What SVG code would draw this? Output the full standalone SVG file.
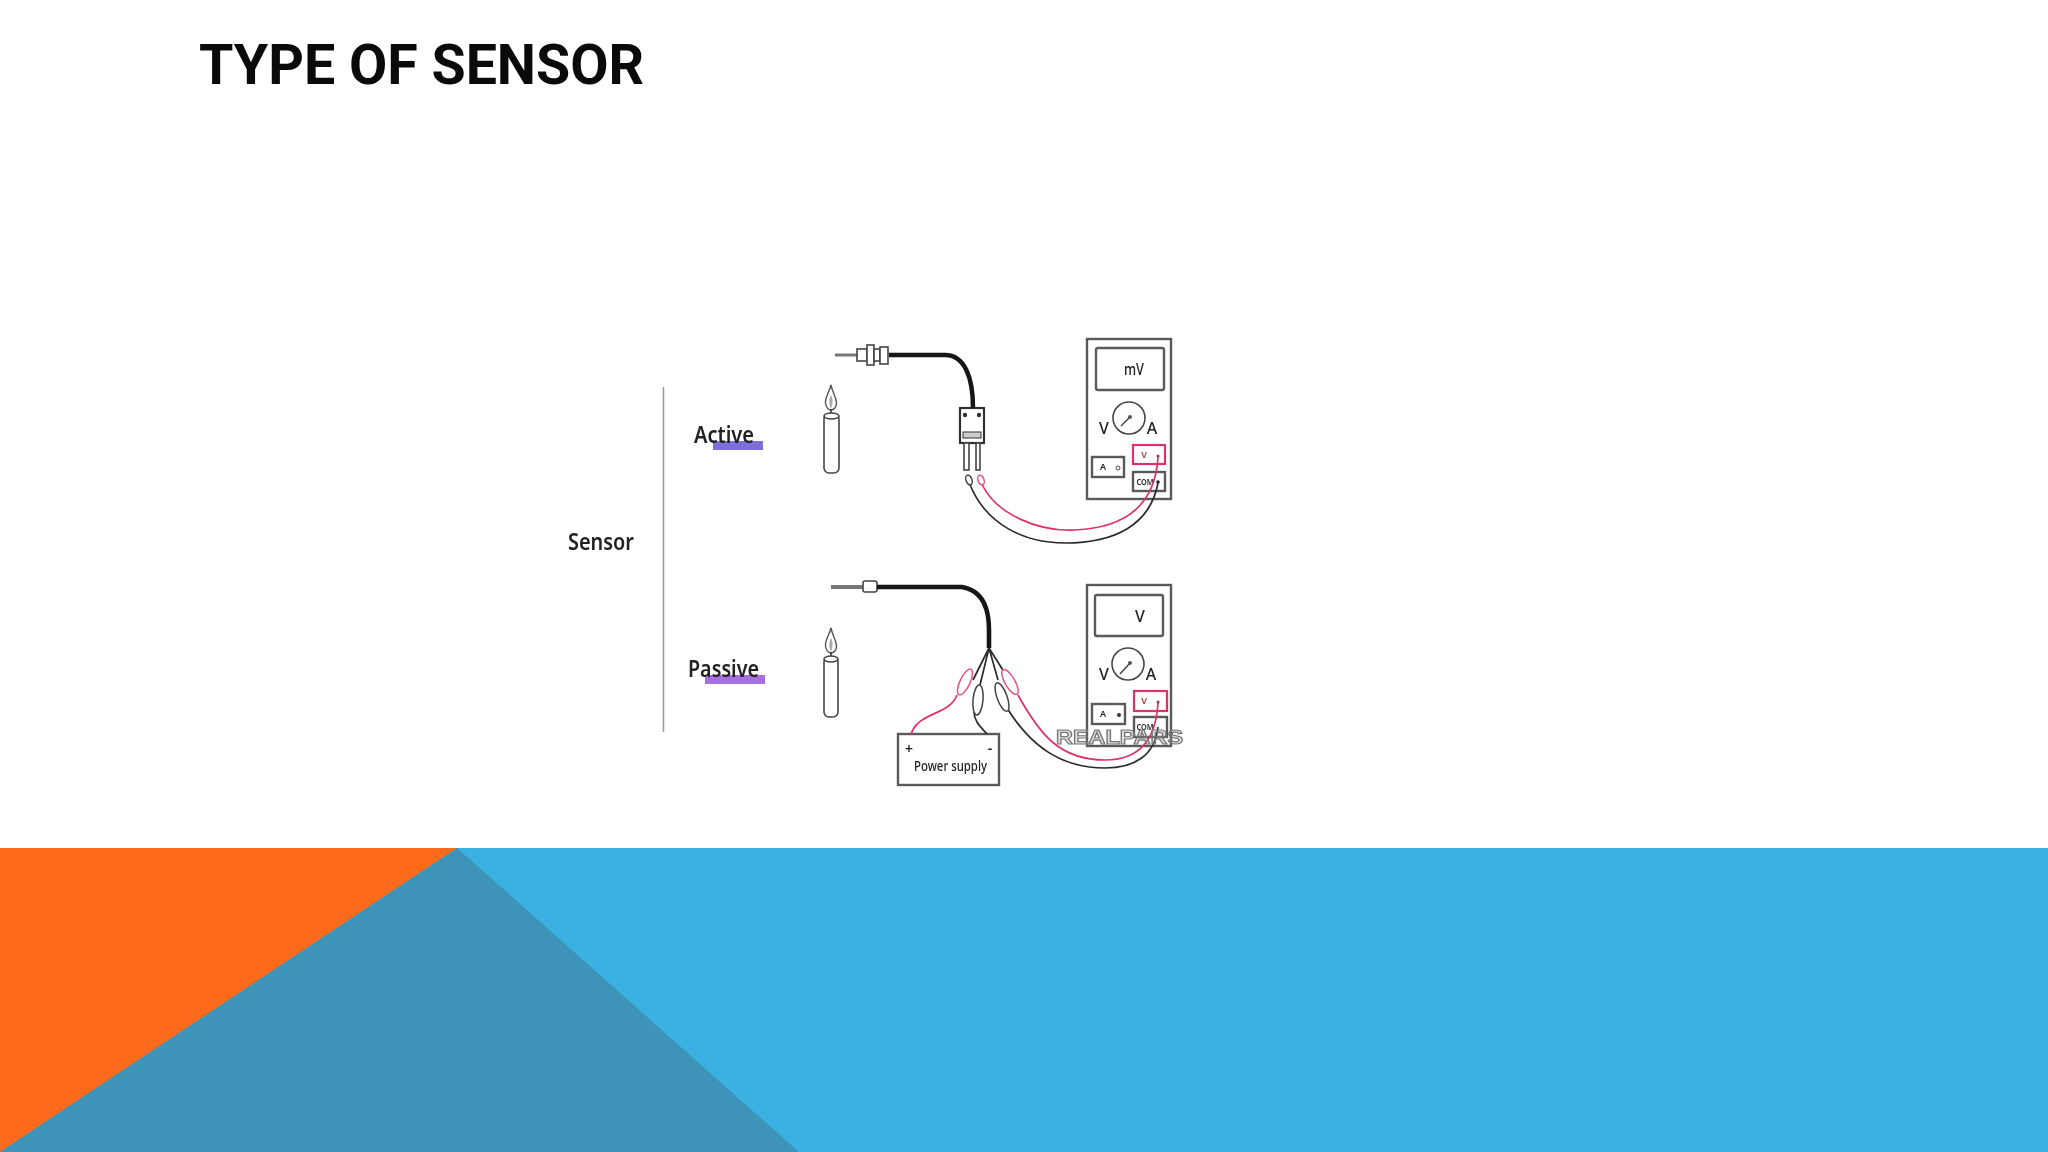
<svg xmlns="http://www.w3.org/2000/svg" width="2048" height="1152" viewBox="0 0 2048 1152">
<defs>
<filter id="soft" x="-5%" y="-5%" width="110%" height="110%"><feGaussianBlur stdDeviation="0.6"/></filter>
<g id="flame">
<path d="M0 0C-2 8 -6 12 -5.500 18C-5 23 -2 25 0 25C3 25 5.500 22 5.500 18C5.500 12 1.500 8 0 0Z" fill="#fff" stroke="#555" stroke-width="1.400"/>
<path d="M0 10C-2 14 -2.500 18 0 24C2 18 2 14 0 10Z" fill="#aaa"/>
<path d="M0 24V29" stroke="#333" stroke-width="1.500"/>
</g>
</defs>
<style>
.sans{font-family:"Noto Sans","Open Sans",sans-serif;fill:#222}
.label{font-size:24px;font-weight:600}
.needle{fill:none;stroke:#444;stroke-width:1.500}
.thin{fill:#fff;stroke:#444;stroke-width:1.600}
.box{fill:#fff;stroke:#5a5a5a;stroke-width:2.400}
.red{fill:none;stroke:#e0336a;stroke-width:1.700}
.blk{fill:none;stroke:#2c2c2c;stroke-width:1.700}
.cable{fill:none;stroke:#161616;stroke-width:4.500}
.clipR{fill:#fff;stroke:#e6527f;stroke-width:1.500}
.clipB{fill:#fff;stroke:#444;stroke-width:1.500}
.pbox{fill:#fff;stroke:#e0336a;stroke-width:2.200}
.mini{font-size:9px;text-anchor:middle;font-weight:600}
.meter{font-size:16px;text-anchor:middle;font-weight:500}
</style>
<rect width="2048" height="1152" fill="#fff"/>
<g id="band">
<rect y="848" width="2048" height="304" fill="#3bb1e1"/>
<polygon points="0,848 457,848 0,1152" fill="#fd6a1c"/>
<polygon points="457,848 799,1152 0,1152" fill="#3d94b8"/>
</g>
<text id="title" x="199" y="84" font-family="Roboto,'Liberation Sans',sans-serif" font-weight="700" font-size="56" fill="#0a0a0a" textLength="445" lengthAdjust="spacingAndGlyphs">TYPE OF SENSOR</text>
<g filter="url(#soft)">
<g id="active-label">
<rect x="713" y="441" width="50" height="9" fill="#7a6fd8"/>
<text class="sans label" x="694" y="443" textLength="60" lengthAdjust="spacingAndGlyphs">Active</text>
</g>
<g id="sensor-label"><text class="sans label" x="568" y="550" textLength="66" lengthAdjust="spacingAndGlyphs">Sensor</text></g>
<g id="passive-label">
<rect x="705" y="675" width="60" height="9" fill="#a66fe2"/>
<text class="sans label" x="688" y="677" textLength="71" lengthAdjust="spacingAndGlyphs">Passive</text>
</g>
<g id="candle-active">
<use href="#flame" x="831" y="385"/>
<rect class="thin" x="824" y="414" width="15" height="59" rx="5"/>
<ellipse class="thin" cx="831.500" cy="416" rx="7.500" ry="3"/>
</g>
<g id="candle-passive">
<use href="#flame" x="831" y="628"/>
<rect class="thin" x="824" y="657" width="14" height="60" rx="5"/>
<ellipse class="thin" cx="831" cy="659" rx="7" ry="3"/>
</g>
<g id="probe-active">
<path d="M835 355H860" stroke="#777" stroke-width="3" fill="none"/>
<rect class="thin" x="857" y="349" width="10" height="12"/>
<rect class="thin" x="867" y="345" width="7" height="20"/>
<rect class="thin" x="874" y="349" width="6" height="12"/>
<rect class="thin" x="880" y="347" width="8" height="17"/>
</g>
<g id="plug-active">
<rect x="960" y="408" width="24" height="35" fill="#fff" stroke="#333" stroke-width="2.200"/>
<circle cx="965" cy="415" r="2.200" fill="#333"/><circle cx="979" cy="415" r="2.200" fill="#333"/>
<rect x="963" y="432" width="18" height="6" fill="#ccc" stroke="#333"/>
<rect class="thin" x="964" y="443" width="5" height="27"/>
<rect class="thin" x="976" y="443" width="4" height="27"/>
</g>
<g id="meter-active">
<rect class="box" x="1087" y="339" width="84" height="160"/>
<rect class="box" x="1096" y="348" width="68" height="42" rx="2"/>
<text class="sans meter" x="1134" y="375" textLength="20" lengthAdjust="spacingAndGlyphs">mV</text>
<circle class="thin" cx="1129" cy="418" r="16"/>
<path class="needle" d="M1121 426L1130 417"/><circle cx="1130" cy="417" r="2" fill="#555"/>
<text class="sans meter" x="1104" y="434">V</text><text class="sans meter" x="1152" y="434">A</text>
<rect class="pbox" x="1133" y="445" width="32" height="19"/>
<text class="mini" x="1144" y="458" font-family="'Noto Sans',sans-serif" fill="#b33">V</text>
<circle cx="1158" cy="456" r="1.500" fill="#a34"/>
<rect class="box" x="1133" y="472" width="32" height="19"/>
<text class="sans mini" x="1145" y="485" textLength="17" lengthAdjust="spacingAndGlyphs">COM</text>
<circle cx="1158" cy="482" r="1.800" fill="#222"/>
<rect class="box" x="1092" y="457" width="32" height="20"/>
<text class="sans mini" x="1103" y="470">A</text><circle cx="1118" cy="468" r="2" fill="none" stroke="#444"/>
</g>
<g id="probe-passive">
<path d="M831 587H863" stroke="#777" stroke-width="4" fill="none"/>
<rect class="thin" x="863" y="581" width="14" height="11" rx="2"/>
</g>
<g id="power-supply">
<rect class="box" x="898" y="734" width="101" height="51"/>
<text class="sans" x="909" y="754" font-size="14" font-weight="600" text-anchor="middle">+</text>
<text class="sans" x="990" y="753" font-size="14" font-weight="600" text-anchor="middle">-</text>
<text class="sans" x="914" y="771" font-size="14" font-weight="500" textLength="73" lengthAdjust="spacingAndGlyphs">Power supply</text>
</g>
<g id="meter-passive">
<rect class="box" x="1087" y="585" width="84" height="161"/>
<rect class="box" x="1095" y="595" width="68" height="41" rx="2"/>
<text class="sans meter" x="1140" y="622">V</text>
<circle class="thin" cx="1128" cy="664" r="16"/>
<path class="needle" d="M1120 674L1130 663"/><circle cx="1130" cy="663" r="2" fill="#555"/>
<text class="sans meter" x="1104" y="680">V</text><text class="sans meter" x="1151" y="680">A</text>
<rect class="pbox" x="1134" y="691" width="33" height="20"/>
<text class="mini" x="1144" y="704" font-family="'Noto Sans',sans-serif" fill="#b33">V</text>
<circle cx="1158" cy="702" r="1.500" fill="#a34"/>
<rect class="box" x="1134" y="717" width="33" height="20"/>
<text class="sans mini" x="1145" y="730" textLength="17" lengthAdjust="spacingAndGlyphs">COM</text>
<rect class="box" x="1092" y="704" width="33" height="20"/>
<text class="sans mini" x="1103" y="717">A</text><circle cx="1119" cy="715" r="2" fill="#333"/>
</g>
<g id="connectors">
<path d="M663.500 387V732" stroke="#999" stroke-width="1.500" fill="none"/>
<path class="cable" d="M889 355H945C965 355 973 378 973 408"/>
<path class="red" d="M981 482C995 515 1040 532 1075 530C1120 528 1155 510 1158 457"/>
<path class="blk" d="M969 482C985 525 1025 543 1065 543C1115 543 1150 525 1158 483"/>
<path class="cable" d="M877 587H962C980 590 989 605 989 630V648"/>
<path class="blk" d="M989 648L973 680M989 648L980 685M989 648L998 680M989 648L1006 675"/>
<path class="red" d="M957 695C950 715 918 712 911 734"/>
<path class="blk" d="M974 712C974 722 982 728 987 734"/>
<path class="red" d="M1018 695C1040 735 1060 760 1105 760C1135 760 1156 745 1158 702"/>
<path class="blk" d="M1007 708C1030 745 1060 768 1105 768C1135 768 1155 755 1158 727"/>
</g>
<g id="clips-active">
<ellipse class="clipB" cx="969" cy="480" rx="3" ry="5" transform="rotate(-20 969 480)"/>
<ellipse class="clipR" cx="981" cy="480" rx="3" ry="5" transform="rotate(-20 981 480)"/>
</g>
<g id="clips-passive">
<ellipse class="clipR" cx="965" cy="682" rx="5" ry="14" transform="rotate(25 965 682)"/>
<ellipse class="clipB" cx="978" cy="700" rx="5" ry="15" transform="rotate(5 978 700)"/>
<ellipse class="clipB" cx="1002" cy="697" rx="5" ry="15" transform="rotate(-20 1002 697)"/>
<ellipse class="clipR" cx="1010" cy="682" rx="5" ry="14" transform="rotate(-30 1010 682)"/>
</g>
<text id="watermark" x="1056" y="744" font-family="'Liberation Sans',sans-serif" font-weight="700" font-size="20" fill="#999" fill-opacity="0.3" stroke="#777" stroke-width="1.200" textLength="127" lengthAdjust="spacingAndGlyphs">REALPARS</text>
</g>
</svg>
